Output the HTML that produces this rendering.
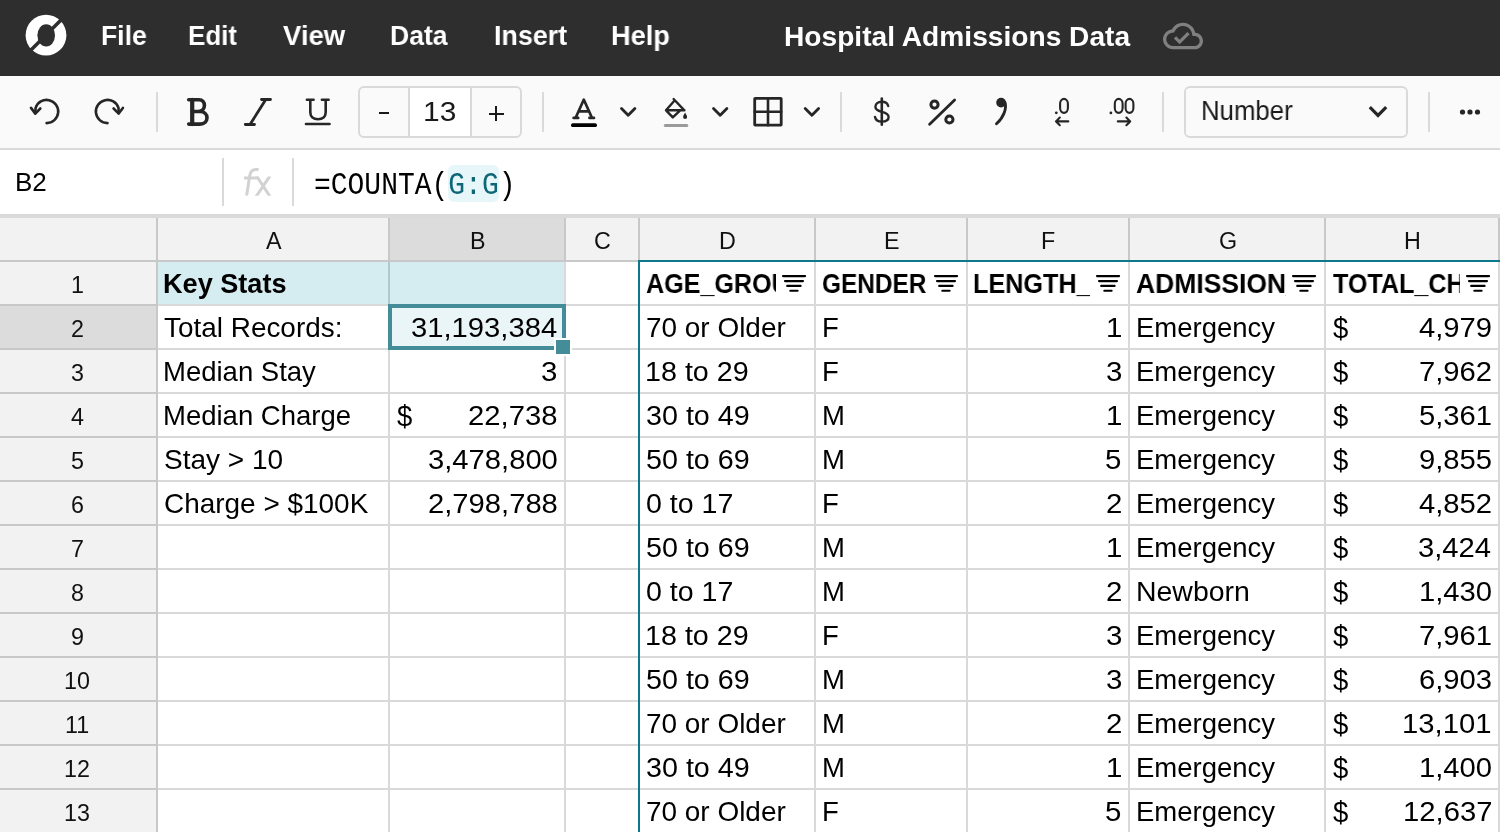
<!DOCTYPE html><html><head><meta charset="utf-8"><style>
html,body{margin:0;padding:0;width:1500px;height:832px;overflow:hidden;background:#fff}
.t{position:absolute;white-space:pre;will-change:transform}
.r{position:absolute}
svg{position:absolute;overflow:visible}
</style></head><body>
<div class="r" style="left:0;top:0;width:1500px;height:76px;background:#2e2e2e"></div>
<svg style="left:0;top:0" width="100" height="76" viewBox="0 0 100 76">
<circle cx="46" cy="35.2" r="20.4" fill="#fff"/>
<ellipse cx="46.2" cy="35.3" rx="8.8" ry="11.1" fill="#2e2e2e"/>
<line x1="28" y1="53" x2="64" y2="17" stroke="#2e2e2e" stroke-width="3.6"/>
</svg>
<div class="t" style="left:101.25px;top:22px;font-size:28px;line-height:28px;font-weight:700;font-family:'Liberation Sans',sans-serif;color:#fff;transform:scale(0.9471,1.0000);transform-origin:0 23px;">File</div>
<div class="t" style="left:188.29px;top:22px;font-size:28px;line-height:28px;font-weight:700;font-family:'Liberation Sans',sans-serif;color:#fff;transform:scale(0.9270,1.0000);transform-origin:0 23px;">Edit</div>
<div class="t" style="left:282.80px;top:22px;font-size:28px;line-height:28px;font-weight:700;font-family:'Liberation Sans',sans-serif;color:#fff;transform:scale(0.9818,1.0000);transform-origin:0 23px;">View</div>
<div class="t" style="left:390.24px;top:22px;font-size:28px;line-height:28px;font-weight:700;font-family:'Liberation Sans',sans-serif;color:#fff;transform:scale(0.9492,1.0000);transform-origin:0 23px;">Data</div>
<div class="t" style="left:494.23px;top:22px;font-size:28px;line-height:28px;font-weight:700;font-family:'Liberation Sans',sans-serif;color:#fff;transform:scale(0.9582,1.0000);transform-origin:0 23px;">Insert</div>
<div class="t" style="left:611.20px;top:22px;font-size:28px;line-height:28px;font-weight:700;font-family:'Liberation Sans',sans-serif;color:#fff;transform:scale(0.9714,1.0000);transform-origin:0 23px;">Help</div>
<div class="t" style="left:783.74px;top:23px;font-size:28px;line-height:28px;font-weight:700;font-family:'Liberation Sans',sans-serif;color:#fff;transform:scale(1.0050,1.0000);transform-origin:0 23px;">Hospital Admissions Data</div>
<svg style="left:1163px;top:16px" width="40" height="40" viewBox="0 0 24 24"><path fill="#808080" d="M19.35 10.04C18.67 6.59 15.64 4 12 4 9.11 4 6.6 5.64 5.35 8.04 2.34 8.36 0 10.91 0 14c0 3.31 2.69 6 6 6h13c2.76 0 5-2.24 5-5 0-2.64-2.05-4.78-4.65-4.96zM19 18H6c-2.21 0-4-1.79-4-4 0-2.05 1.53-3.76 3.56-3.97l1.07-.11.5-.95C8.08 7.14 9.94 6 12 6c2.62 0 4.88 1.86 5.39 4.43l.3 1.5 1.53.11c1.56.1 2.78 1.41 2.78 2.96 0 1.65-1.35 3-3 3zm-9-3.82l-2.09-2.09L6.5 13.5 10 17l6.01-6.01-1.41-1.41z"/></svg>
<div class="r" style="left:0;top:76px;width:1500px;height:72px;background:#fafafa"></div>
<div class="r" style="left:0;top:148px;width:1500px;height:2px;background:#dadada"></div>
<div class="r" style="left:156px;top:92px;width:2px;height:40px;background:#dadada"></div>
<div class="r" style="left:542px;top:92px;width:2px;height:40px;background:#dadada"></div>
<div class="r" style="left:840px;top:92px;width:2px;height:40px;background:#dadada"></div>
<div class="r" style="left:1162px;top:92px;width:2px;height:40px;background:#dadada"></div>
<div class="r" style="left:1428px;top:92px;width:2px;height:40px;background:#dadada"></div>
<svg style="left:0;top:76px" width="150" height="72" viewBox="0 76 150 72">
<g fill="none" stroke="#262626" stroke-width="2.6" stroke-linecap="round" stroke-linejoin="round">
<path d="M46.6 123.1 A11.6 11.6 0 1 0 35.6 107.9 L35.3 113"/>
<path d="M31 107.9 L35.3 113.6 L40.3 108.5"/>
<path d="M107.5 123.1 A11.6 11.6 0 1 1 118.5 107.9 L118.7 113"/>
<path d="M113.6 108.5 L118.7 113.6 L122.9 107.9"/>
</g></svg>
<svg style="left:0;top:76px" width="360" height="72" viewBox="0 76 360 72">
<g fill="none" stroke="#262626" stroke-width="3.6" stroke-linecap="round" stroke-linejoin="round">
<path d="M188.7 99.8 H199 C202.5 99.8 204.4 102.5 204.4 105.6 C204.4 108.8 202.2 111.5 198.5 111.5 H192.2 M188.7 124.1 H200 C204.5 124.1 207 121 207 117.8 C207 114.2 204 111.5 200 111.5 H192.2"/>
<path d="M192.2 99.8 V124.1" stroke-width="4.2"/>
</g>
<g fill="none" stroke="#262626" stroke-width="2.6" stroke-linecap="round">
<path d="M261.5 99.5 H270.5 M245.3 124.5 H254.5 M265.8 99.5 L250 124.5" stroke-width="2.8"/>
<path d="M306.9 99.8 H313.6 M321.9 99.8 H328.6 M310.3 99.8 V112.3 C310.3 116.8 313.5 119.3 318 119.3 C322.5 119.3 325.7 116.8 325.7 112.3 V99.8"/>
<path d="M306 124 H329.5"/>
</g></svg>
<div class="r" style="left:358px;top:86px;width:160px;height:48px;border:2px solid #dadada;border-radius:6px;background:#fafafa"></div>
<div class="r" style="left:408px;top:88px;width:2px;height:48px;background:#dadada"></div>
<div class="r" style="left:410px;top:88px;width:60px;height:48px;background:#fff"></div>
<div class="r" style="left:470px;top:88px;width:2px;height:48px;background:#dadada"></div>
<div class="r" style="left:379px;top:112px;width:10px;height:2.4px;background:#1a1a1a"></div>
<div class="t" style="left:423.32px;top:98px;font-size:27.5px;line-height:27.5px;font-weight:400;font-family:'Liberation Sans',sans-serif;color:#1a1a1a;transform:scale(1.0879,1.0000);transform-origin:0 23px;">13</div>
<div class="r" style="left:488.6px;top:112.6px;width:15.2px;height:2.4px;background:#1a1a1a"></div>
<div class="r" style="left:495px;top:106px;width:2.4px;height:15.3px;background:#1a1a1a"></div>
<svg style="left:0;top:76px" width="1500" height="72" viewBox="0 76 1500 72">
<g fill="none" stroke="#262626" stroke-width="2.6" stroke-linecap="round" stroke-linejoin="round">
<path d="M575.6 117.9 L583.8 99.6 L592 117.9 M578.4 111.4 H589.2 M573.6 117.9 H578.2 M589.4 117.9 H594"/>
<path d="M621.5 108.5 L628.2 115.3 L634.9 108.5" stroke-width="2.8"/>
<path d="M713.5 108.5 L720.2 115.3 L726.9 108.5" stroke-width="2.8"/>
<path d="M805.2 108.5 L811.9 115.3 L818.6 108.5" stroke-width="2.8"/>
<rect x="754.7" y="98.4" width="26.5" height="26.8" rx="0.4" stroke-width="2.8" stroke-linejoin="miter"/>
<path d="M768 98.4 V125.2 M754.7 111.8 H781.2" stroke-width="2.6"/>
<path d="M673.6 99 L684.4 110.3 M674.8 100.3 L666 110.3 L672.8 117.4 L680.2 110.3 M666 110.3 H684.4" stroke-width="2.4"/>
</g>
<path d="M685.1 112.6 C684 114.8 683.1 115.8 683.1 117 A2 2 0 0 0 687.1 117 C687.1 115.8 686.2 114.8 685.1 112.6Z" fill="#262626"/>
<rect x="571" y="123.3" width="26" height="3.8" rx="1.9" fill="#000"/>
<rect x="663.8" y="123.9" width="24.5" height="3.2" rx="1.6" fill="#9a9a9a"/>
<g fill="none" stroke="#262626" stroke-width="2.6" stroke-linecap="round">
<path d="M929.6 124.2 L954.6 100" stroke-width="2.8"/>
<circle cx="934.5" cy="104.6" r="3.6" stroke-width="3"/>
<circle cx="949.4" cy="119.5" r="3.6" stroke-width="3"/>
<path d="M1005 102.5 C1006.8 108 1004 117 996.5 123.8" stroke-width="2.9"/>
<path d="M881.8 98.6 V124.8"/>
<path d="M888.2 106 C887.6 103.5 885 101.8 881.8 101.8 C878 101.8 875.4 104 875.4 106.8 C875.4 110 878.3 111 881.8 111.8 C885.6 112.6 888.6 114 888.6 117 C888.6 120 885.6 121.6 881.8 121.6 C878.2 121.6 875.6 119.8 875 117" stroke-width="2.4"/>
</g>
<circle cx="1001.1" cy="102.6" r="4.9" fill="#262626"/>
<g fill="none" stroke="#262626" stroke-width="2.1" stroke-linecap="round" stroke-linejoin="round">
<path d="M1068.3 121.4 H1056 M1059.8 117.6 L1056 121.4 L1059.8 125.2"/>
<path d="M1117.8 121.4 H1130.2 M1126.4 117.6 L1130.2 121.4 L1126.4 125.2"/>
<rect x="1060.1" y="98.9" width="7.8" height="14" rx="3.9" ry="4.8"/>
<rect x="1114.8" y="98.9" width="7.8" height="14" rx="3.9" ry="4.8"/>
<rect x="1125.6" y="98.9" width="7.8" height="14" rx="3.9" ry="4.8"/>
</g>
<circle cx="1056.3" cy="112.8" r="1.4" fill="#262626"/>
<circle cx="1110.9" cy="112.9" r="1.4" fill="#262626"/>
<circle cx="1462.5" cy="112" r="2.6" fill="#262626"/>
<circle cx="1470" cy="112" r="2.6" fill="#262626"/>
<circle cx="1477.5" cy="112" r="2.6" fill="#262626"/>
</svg>
<div class="r" style="left:1184px;top:86px;width:220px;height:48px;border:2px solid #dadada;border-radius:6px;background:#fafafa"></div>
<div class="t" style="left:1201.09px;top:97.3px;font-size:27.5px;line-height:27.5px;font-weight:400;font-family:'Liberation Sans',sans-serif;color:#1a1a1a;transform:scale(0.9369,1.0000);transform-origin:0 23px;">Number</div>
<svg style="left:1350px;top:96px" width="50" height="32" viewBox="1350 96 50 32"><path d="M1369.8 107.2 L1378 115.4 L1386.2 107.2" fill="none" stroke="#262626" stroke-width="3.2" stroke-linecap="butt" stroke-linejoin="miter"/></svg>
<div class="r" style="left:0;top:150px;width:1500px;height:64px;background:#fff"></div>
<div class="r" style="left:0;top:214px;width:1500px;height:4px;background:#dadada"></div>
<div class="r" style="left:222px;top:158px;width:2px;height:48px;background:#dadada"></div>
<div class="r" style="left:292px;top:158px;width:2px;height:48px;background:#dadada"></div>
<div class="t" style="left:15.45px;top:169px;font-size:26px;line-height:26px;font-weight:400;font-family:'Liberation Sans',sans-serif;color:#000;transform:scale(0.9982,1.0000);transform-origin:0 22px;">B2</div>
<svg style="left:0;top:150px" width="300" height="64" viewBox="0 150 300 64"><g fill="none" stroke="#d2d2d2" stroke-width="3" stroke-linecap="butt"><path d="M246.6 195.5 L249.8 175.5 C250.6 171 253 169.6 256 169.6 H258.6"/><path d="M244 178 H259"/><path clip-path="url(#fxc)" d="M256.4 175.8 L270.5 197.3 M270 175.8 L255.6 197.3"/></g><clipPath id="fxc"><rect x="240" y="176.6" width="40" height="19.1"/></clipPath></svg>
<div class="r" style="left:448px;top:165px;width:51px;height:36.5px;border-radius:6px;background:#e6f6f9"></div>
<div class="t" style="left:314.00px;top:172.6px;font-size:27.1px;line-height:27.1px;font-family:'Liberation Mono',monospace;color:#000;transform:scale(1.0325,1.137);transform-origin:0 21px">=COUNTA(<span style="color:#0e6677">G:G</span>)</div>
<div class="r" style="left:0;top:218px;width:1500px;height:42px;background:#f2f2f2"></div>
<div class="r" style="left:390px;top:218px;width:174px;height:42px;background:#dcdcdc"></div>
<div class="r" style="left:0;top:260px;width:1500px;height:2px;background:#c8c8c8"></div>
<div class="r" style="left:0;top:262px;width:156px;height:570px;background:#f2f2f2"></div>
<div class="r" style="left:0;top:306px;width:156px;height:42px;background:#dcdcdc"></div>
<div class="r" style="left:156px;top:218px;width:2px;height:614px;background:#c8c8c8"></div>
<div class="r" style="left:388px;top:218px;width:2px;height:42px;background:#c8c8c8"></div>
<div class="r" style="left:564px;top:218px;width:2px;height:42px;background:#c8c8c8"></div>
<div class="r" style="left:638px;top:218px;width:2px;height:42px;background:#c8c8c8"></div>
<div class="r" style="left:814px;top:218px;width:2px;height:42px;background:#c8c8c8"></div>
<div class="r" style="left:966px;top:218px;width:2px;height:42px;background:#c8c8c8"></div>
<div class="r" style="left:1128px;top:218px;width:2px;height:42px;background:#c8c8c8"></div>
<div class="r" style="left:1324px;top:218px;width:2px;height:42px;background:#c8c8c8"></div>
<div class="r" style="left:1498px;top:218px;width:2px;height:42px;background:#c8c8c8"></div>
<div class="r" style="left:158px;top:262px;width:406px;height:42px;background:#d5ecf0"></div>
<div class="r" style="left:0;top:304px;width:156px;height:2px;background:#c8c8c8"></div>
<div class="r" style="left:158px;top:304px;width:1342px;height:2px;background:#dad9d9"></div>
<div class="r" style="left:0;top:348px;width:156px;height:2px;background:#c8c8c8"></div>
<div class="r" style="left:158px;top:348px;width:1342px;height:2px;background:#dad9d9"></div>
<div class="r" style="left:0;top:392px;width:156px;height:2px;background:#c8c8c8"></div>
<div class="r" style="left:158px;top:392px;width:1342px;height:2px;background:#dad9d9"></div>
<div class="r" style="left:0;top:436px;width:156px;height:2px;background:#c8c8c8"></div>
<div class="r" style="left:158px;top:436px;width:1342px;height:2px;background:#dad9d9"></div>
<div class="r" style="left:0;top:480px;width:156px;height:2px;background:#c8c8c8"></div>
<div class="r" style="left:158px;top:480px;width:1342px;height:2px;background:#dad9d9"></div>
<div class="r" style="left:0;top:524px;width:156px;height:2px;background:#c8c8c8"></div>
<div class="r" style="left:158px;top:524px;width:1342px;height:2px;background:#dad9d9"></div>
<div class="r" style="left:0;top:568px;width:156px;height:2px;background:#c8c8c8"></div>
<div class="r" style="left:158px;top:568px;width:1342px;height:2px;background:#dad9d9"></div>
<div class="r" style="left:0;top:612px;width:156px;height:2px;background:#c8c8c8"></div>
<div class="r" style="left:158px;top:612px;width:1342px;height:2px;background:#dad9d9"></div>
<div class="r" style="left:0;top:656px;width:156px;height:2px;background:#c8c8c8"></div>
<div class="r" style="left:158px;top:656px;width:1342px;height:2px;background:#dad9d9"></div>
<div class="r" style="left:0;top:700px;width:156px;height:2px;background:#c8c8c8"></div>
<div class="r" style="left:158px;top:700px;width:1342px;height:2px;background:#dad9d9"></div>
<div class="r" style="left:0;top:744px;width:156px;height:2px;background:#c8c8c8"></div>
<div class="r" style="left:158px;top:744px;width:1342px;height:2px;background:#dad9d9"></div>
<div class="r" style="left:0;top:788px;width:156px;height:2px;background:#c8c8c8"></div>
<div class="r" style="left:158px;top:788px;width:1342px;height:2px;background:#dad9d9"></div>
<div class="r" style="left:0;top:832px;width:156px;height:2px;background:#c8c8c8"></div>
<div class="r" style="left:158px;top:832px;width:1342px;height:2px;background:#dad9d9"></div>
<div class="r" style="left:388px;top:262px;width:2px;height:570px;background:#dad9d9"></div>
<div class="r" style="left:564px;top:262px;width:2px;height:570px;background:#dad9d9"></div>
<div class="r" style="left:638px;top:262px;width:2px;height:570px;background:#dad9d9"></div>
<div class="r" style="left:814px;top:262px;width:2px;height:570px;background:#dad9d9"></div>
<div class="r" style="left:966px;top:262px;width:2px;height:570px;background:#dad9d9"></div>
<div class="r" style="left:1128px;top:262px;width:2px;height:570px;background:#dad9d9"></div>
<div class="r" style="left:1324px;top:262px;width:2px;height:570px;background:#dad9d9"></div>
<div class="r" style="left:1498px;top:262px;width:2px;height:570px;background:#dad9d9"></div>
<div class="r" style="left:388px;top:262px;width:2px;height:42px;background:#b4c8cc"></div>
<div class="t" style="left:266.02px;top:230px;font-size:23.3px;line-height:23.3px;font-weight:400;font-family:'Liberation Sans',sans-serif;color:#111;">A</div>
<div class="t" style="left:469.70px;top:230px;font-size:23.3px;line-height:23.3px;font-weight:400;font-family:'Liberation Sans',sans-serif;color:#111;">B</div>
<div class="t" style="left:594.25px;top:230px;font-size:23.3px;line-height:23.3px;font-weight:400;font-family:'Liberation Sans',sans-serif;color:#111;">C</div>
<div class="t" style="left:719.00px;top:230px;font-size:23.3px;line-height:23.3px;font-weight:400;font-family:'Liberation Sans',sans-serif;color:#111;">D</div>
<div class="t" style="left:883.57px;top:230px;font-size:23.3px;line-height:23.3px;font-weight:400;font-family:'Liberation Sans',sans-serif;color:#111;">E</div>
<div class="t" style="left:1041.20px;top:230px;font-size:23.3px;line-height:23.3px;font-weight:400;font-family:'Liberation Sans',sans-serif;color:#111;">F</div>
<div class="t" style="left:1219.02px;top:230px;font-size:23.3px;line-height:23.3px;font-weight:400;font-family:'Liberation Sans',sans-serif;color:#111;">G</div>
<div class="t" style="left:1404.37px;top:230px;font-size:23.3px;line-height:23.3px;font-weight:400;font-family:'Liberation Sans',sans-serif;color:#111;">H</div>
<div class="t" style="left:70.70px;top:274px;font-size:23.3px;line-height:23.3px;font-weight:400;font-family:'Liberation Sans',sans-serif;color:#111;">1</div>
<div class="t" style="left:71.02px;top:318px;font-size:23.3px;line-height:23.3px;font-weight:400;font-family:'Liberation Sans',sans-serif;color:#111;">2</div>
<div class="t" style="left:71.07px;top:362px;font-size:23.3px;line-height:23.3px;font-weight:400;font-family:'Liberation Sans',sans-serif;color:#111;">3</div>
<div class="t" style="left:71.08px;top:406px;font-size:23.3px;line-height:23.3px;font-weight:400;font-family:'Liberation Sans',sans-serif;color:#111;">4</div>
<div class="t" style="left:71.02px;top:450px;font-size:23.3px;line-height:23.3px;font-weight:400;font-family:'Liberation Sans',sans-serif;color:#111;">5</div>
<div class="t" style="left:70.92px;top:494px;font-size:23.3px;line-height:23.3px;font-weight:400;font-family:'Liberation Sans',sans-serif;color:#111;">6</div>
<div class="t" style="left:71.00px;top:538px;font-size:23.3px;line-height:23.3px;font-weight:400;font-family:'Liberation Sans',sans-serif;color:#111;">7</div>
<div class="t" style="left:71.03px;top:582px;font-size:23.3px;line-height:23.3px;font-weight:400;font-family:'Liberation Sans',sans-serif;color:#111;">8</div>
<div class="t" style="left:71.03px;top:626px;font-size:23.3px;line-height:23.3px;font-weight:400;font-family:'Liberation Sans',sans-serif;color:#111;">9</div>
<div class="t" style="left:64.12px;top:670px;font-size:23.3px;line-height:23.3px;font-weight:400;font-family:'Liberation Sans',sans-serif;color:#111;">10</div>
<div class="t" style="left:65.08px;top:714px;font-size:23.3px;line-height:23.3px;font-weight:400;font-family:'Liberation Sans',sans-serif;color:#111;">11</div>
<div class="t" style="left:64.25px;top:758px;font-size:23.3px;line-height:23.3px;font-weight:400;font-family:'Liberation Sans',sans-serif;color:#111;">12</div>
<div class="t" style="left:64.17px;top:802px;font-size:23.3px;line-height:23.3px;font-weight:400;font-family:'Liberation Sans',sans-serif;color:#111;">13</div>
<div class="r" style="left:392px;top:308px;width:170px;height:38px;background:#eaf5f8"></div>
<div class="r" style="left:388px;top:304px;width:170px;height:38px;border:4px solid #458c99"></div>
<div class="r" style="left:554px;top:338px;width:18px;height:18px;background:#fff"></div>
<div class="r" style="left:556px;top:340px;width:14px;height:14px;background:#458c99"></div>
<div class="r" style="left:638px;top:260px;width:2px;height:572px;background:#0d778b"></div>
<div class="r" style="left:638px;top:260px;width:862px;height:2px;background:#0d778b"></div>
<div class="t" style="left:163.19px;top:271px;font-size:27px;line-height:27px;font-weight:700;font-family:'Liberation Sans',sans-serif;color:#000;transform:scale(1.0037,1.0000);transform-origin:0 22px;">Key Stats</div>
<div class="t" style="left:164.39px;top:314px;font-size:27.5px;line-height:27.5px;font-weight:400;font-family:'Liberation Sans',sans-serif;color:#000;transform:scale(1.0151,1.0000);transform-origin:0 23px;">Total Records:</div>
<div class="t" style="left:162.75px;top:358px;font-size:27.5px;line-height:27.5px;font-weight:400;font-family:'Liberation Sans',sans-serif;color:#000;">Median Stay</div>
<div class="t" style="left:162.75px;top:402px;font-size:27.5px;line-height:27.5px;font-weight:400;font-family:'Liberation Sans',sans-serif;color:#000;">Median Charge</div>
<div class="t" style="left:163.73px;top:446px;font-size:27.5px;line-height:27.5px;font-weight:400;font-family:'Liberation Sans',sans-serif;color:#000;transform:scale(1.0183,1.0000);transform-origin:0 23px;">Stay &gt; 10</div>
<div class="t" style="left:163.58px;top:490px;font-size:27.5px;line-height:27.5px;font-weight:400;font-family:'Liberation Sans',sans-serif;color:#000;transform:scale(1.0160,1.0000);transform-origin:0 23px;">Charge &gt; $100K</div>
<div class="t" style="left:411.13px;top:314px;font-size:27.5px;line-height:27.5px;font-weight:400;font-family:'Liberation Sans',sans-serif;color:#000;transform:scale(1.0622,1.0000);transform-origin:0 23px;">31,193,384</div>
<div class="t" style="left:541.41px;top:358px;font-size:27.5px;line-height:27.5px;font-weight:400;font-family:'Liberation Sans',sans-serif;color:#000;transform:scale(1.0700,1.0000);transform-origin:0 23px;">3</div>
<div class="t" style="left:468.32px;top:402px;font-size:27.5px;line-height:27.5px;font-weight:400;font-family:'Liberation Sans',sans-serif;color:#000;transform:scale(1.0636,1.0000);transform-origin:0 23px;">22,738</div>
<div class="t" style="left:427.77px;top:446px;font-size:27.5px;line-height:27.5px;font-weight:400;font-family:'Liberation Sans',sans-serif;color:#000;transform:scale(1.0613,1.0000);transform-origin:0 23px;">3,478,800</div>
<div class="t" style="left:427.93px;top:490px;font-size:27.5px;line-height:27.5px;font-weight:400;font-family:'Liberation Sans',sans-serif;color:#000;transform:scale(1.0613,1.0000);transform-origin:0 23px;">2,798,788</div>
<div class="t" style="left:397.30px;top:402.6px;font-size:27.5px;line-height:27.5px;font-weight:400;font-family:'Liberation Sans',sans-serif;color:#000;transform:scale(1.0000,1.1000);transform-origin:0 23px;">$</div>
<div class="r" style="left:640px;top:262px;width:136px;height:42px;overflow:hidden">
<div class="t" style="left:6.35px;top:9px;font-size:27px;line-height:27px;font-weight:700;font-family:'Liberation Sans',sans-serif;color:#000;transform:scale(0.9300,1.0000);transform-origin:0 22px;">AGE_GROUP</div>
</div>
<svg style="left:782px;top:270px" width="24" height="26" viewBox="0 0 24 26"><g stroke="#000" stroke-width="2.1" stroke-linecap="round">
<path d="M1 6.1 H23.1 M3 11.1 H21 M5.2 15.9 H18.6 M8.3 20.8 H15.6"/></g></svg>
<div class="r" style="left:816px;top:262px;width:112px;height:42px;overflow:hidden">
<div class="t" style="left:6.01px;top:9px;font-size:27px;line-height:27px;font-weight:700;font-family:'Liberation Sans',sans-serif;color:#000;transform:scale(0.9040,1.0000);transform-origin:0 22px;">GENDER</div>
</div>
<svg style="left:934px;top:270px" width="24" height="26" viewBox="0 0 24 26"><g stroke="#000" stroke-width="2.1" stroke-linecap="round">
<path d="M1 6.1 H23.1 M3 11.1 H21 M5.2 15.9 H18.6 M8.3 20.8 H15.6"/></g></svg>
<div class="r" style="left:968px;top:262px;width:122px;height:42px;overflow:hidden">
<div class="t" style="left:5.32px;top:9px;font-size:27px;line-height:27px;font-weight:700;font-family:'Liberation Sans',sans-serif;color:#000;transform:scale(0.9330,1.0000);transform-origin:0 22px;">LENGTH_OF_STAY</div>
</div>
<svg style="left:1096px;top:270px" width="24" height="26" viewBox="0 0 24 26"><g stroke="#000" stroke-width="2.1" stroke-linecap="round">
<path d="M1 6.1 H23.1 M3 11.1 H21 M5.2 15.9 H18.6 M8.3 20.8 H15.6"/></g></svg>
<div class="r" style="left:1130px;top:262px;width:156px;height:42px;overflow:hidden">
<div class="t" style="left:6.31px;top:9px;font-size:27px;line-height:27px;font-weight:700;font-family:'Liberation Sans',sans-serif;color:#000;transform:scale(0.9810,1.0000);transform-origin:0 22px;">ADMISSION_TYPE</div>
</div>
<svg style="left:1292px;top:270px" width="24" height="26" viewBox="0 0 24 26"><g stroke="#000" stroke-width="2.1" stroke-linecap="round">
<path d="M1 6.1 H23.1 M3 11.1 H21 M5.2 15.9 H18.6 M8.3 20.8 H15.6"/></g></svg>
<div class="r" style="left:1326px;top:262px;width:134px;height:42px;overflow:hidden">
<div class="t" style="left:6.72px;top:9px;font-size:27px;line-height:27px;font-weight:700;font-family:'Liberation Sans',sans-serif;color:#000;transform:scale(0.9300,1.0000);transform-origin:0 22px;">TOTAL_CHARGES</div>
</div>
<svg style="left:1466px;top:270px" width="24" height="26" viewBox="0 0 24 26"><g stroke="#000" stroke-width="2.1" stroke-linecap="round">
<path d="M1 6.1 H23.1 M3 11.1 H21 M5.2 15.9 H18.6 M8.3 20.8 H15.6"/></g></svg>
<div class="t" style="left:645.58px;top:314px;font-size:27.5px;line-height:27.5px;font-weight:400;font-family:'Liberation Sans',sans-serif;color:#000;transform:scale(1.0156,1.0000);transform-origin:0 23px;">70 or Older</div>
<div class="t" style="left:822.15px;top:314px;font-size:27.5px;line-height:27.5px;font-weight:400;font-family:'Liberation Sans',sans-serif;color:#000;">F</div>
<div class="t" style="left:1105.67px;top:314px;font-size:27.5px;line-height:27.5px;font-weight:400;font-family:'Liberation Sans',sans-serif;color:#000;transform:scale(1.0700,1.0000);transform-origin:0 23px;">1</div>
<div class="t" style="left:1136.05px;top:314px;font-size:27.5px;line-height:27.5px;font-weight:400;font-family:'Liberation Sans',sans-serif;color:#000;transform:scale(0.9985,1.0000);transform-origin:0 23px;">Emergency</div>
<div class="t" style="left:1332.80px;top:314.6px;font-size:27.5px;line-height:27.5px;font-weight:400;font-family:'Liberation Sans',sans-serif;color:#000;transform:scale(1.0000,1.1000);transform-origin:0 23px;">$</div>
<div class="t" style="left:1418.80px;top:314px;font-size:27.5px;line-height:27.5px;font-weight:400;font-family:'Liberation Sans',sans-serif;color:#000;transform:scale(1.0622,1.0000);transform-origin:0 23px;">4,979</div>
<div class="t" style="left:644.81px;top:358px;font-size:27.5px;line-height:27.5px;font-weight:400;font-family:'Liberation Sans',sans-serif;color:#000;transform:scale(1.0431,1.0000);transform-origin:0 23px;">18 to 29</div>
<div class="t" style="left:822.15px;top:358px;font-size:27.5px;line-height:27.5px;font-weight:400;font-family:'Liberation Sans',sans-serif;color:#000;">F</div>
<div class="t" style="left:1105.51px;top:358px;font-size:27.5px;line-height:27.5px;font-weight:400;font-family:'Liberation Sans',sans-serif;color:#000;transform:scale(1.0700,1.0000);transform-origin:0 23px;">3</div>
<div class="t" style="left:1136.05px;top:358px;font-size:27.5px;line-height:27.5px;font-weight:400;font-family:'Liberation Sans',sans-serif;color:#000;transform:scale(0.9985,1.0000);transform-origin:0 23px;">Emergency</div>
<div class="t" style="left:1332.80px;top:358.6px;font-size:27.5px;line-height:27.5px;font-weight:400;font-family:'Liberation Sans',sans-serif;color:#000;transform:scale(1.0000,1.1000);transform-origin:0 23px;">$</div>
<div class="t" style="left:1418.91px;top:358px;font-size:27.5px;line-height:27.5px;font-weight:400;font-family:'Liberation Sans',sans-serif;color:#000;transform:scale(1.0622,1.0000);transform-origin:0 23px;">7,962</div>
<div class="t" style="left:645.90px;top:402px;font-size:27.5px;line-height:27.5px;font-weight:400;font-family:'Liberation Sans',sans-serif;color:#000;transform:scale(1.0431,1.0000);transform-origin:0 23px;">30 to 49</div>
<div class="t" style="left:822.15px;top:402px;font-size:27.5px;line-height:27.5px;font-weight:400;font-family:'Liberation Sans',sans-serif;color:#000;">M</div>
<div class="t" style="left:1105.67px;top:402px;font-size:27.5px;line-height:27.5px;font-weight:400;font-family:'Liberation Sans',sans-serif;color:#000;transform:scale(1.0700,1.0000);transform-origin:0 23px;">1</div>
<div class="t" style="left:1136.05px;top:402px;font-size:27.5px;line-height:27.5px;font-weight:400;font-family:'Liberation Sans',sans-serif;color:#000;transform:scale(0.9985,1.0000);transform-origin:0 23px;">Emergency</div>
<div class="t" style="left:1332.80px;top:402.6px;font-size:27.5px;line-height:27.5px;font-weight:400;font-family:'Liberation Sans',sans-serif;color:#000;transform:scale(1.0000,1.1000);transform-origin:0 23px;">$</div>
<div class="t" style="left:1418.85px;top:402px;font-size:27.5px;line-height:27.5px;font-weight:400;font-family:'Liberation Sans',sans-serif;color:#000;transform:scale(1.0622,1.0000);transform-origin:0 23px;">5,361</div>
<div class="t" style="left:645.85px;top:446px;font-size:27.5px;line-height:27.5px;font-weight:400;font-family:'Liberation Sans',sans-serif;color:#000;transform:scale(1.0431,1.0000);transform-origin:0 23px;">50 to 69</div>
<div class="t" style="left:822.15px;top:446px;font-size:27.5px;line-height:27.5px;font-weight:400;font-family:'Liberation Sans',sans-serif;color:#000;">M</div>
<div class="t" style="left:1105.46px;top:446px;font-size:27.5px;line-height:27.5px;font-weight:400;font-family:'Liberation Sans',sans-serif;color:#000;transform:scale(1.0700,1.0000);transform-origin:0 23px;">5</div>
<div class="t" style="left:1136.05px;top:446px;font-size:27.5px;line-height:27.5px;font-weight:400;font-family:'Liberation Sans',sans-serif;color:#000;transform:scale(0.9985,1.0000);transform-origin:0 23px;">Emergency</div>
<div class="t" style="left:1332.80px;top:446.6px;font-size:27.5px;line-height:27.5px;font-weight:400;font-family:'Liberation Sans',sans-serif;color:#000;transform:scale(1.0000,1.1000);transform-origin:0 23px;">$</div>
<div class="t" style="left:1418.64px;top:446px;font-size:27.5px;line-height:27.5px;font-weight:400;font-family:'Liberation Sans',sans-serif;color:#000;transform:scale(1.0622,1.0000);transform-origin:0 23px;">9,855</div>
<div class="t" style="left:645.91px;top:490px;font-size:27.5px;line-height:27.5px;font-weight:400;font-family:'Liberation Sans',sans-serif;color:#000;transform:scale(1.0382,1.0000);transform-origin:0 23px;">0 to 17</div>
<div class="t" style="left:822.15px;top:490px;font-size:27.5px;line-height:27.5px;font-weight:400;font-family:'Liberation Sans',sans-serif;color:#000;">F</div>
<div class="t" style="left:1105.73px;top:490px;font-size:27.5px;line-height:27.5px;font-weight:400;font-family:'Liberation Sans',sans-serif;color:#000;transform:scale(1.0700,1.0000);transform-origin:0 23px;">2</div>
<div class="t" style="left:1136.05px;top:490px;font-size:27.5px;line-height:27.5px;font-weight:400;font-family:'Liberation Sans',sans-serif;color:#000;transform:scale(0.9985,1.0000);transform-origin:0 23px;">Emergency</div>
<div class="t" style="left:1332.80px;top:490.6px;font-size:27.5px;line-height:27.5px;font-weight:400;font-family:'Liberation Sans',sans-serif;color:#000;transform:scale(1.0000,1.1000);transform-origin:0 23px;">$</div>
<div class="t" style="left:1418.91px;top:490px;font-size:27.5px;line-height:27.5px;font-weight:400;font-family:'Liberation Sans',sans-serif;color:#000;transform:scale(1.0622,1.0000);transform-origin:0 23px;">4,852</div>
<div class="t" style="left:645.85px;top:534px;font-size:27.5px;line-height:27.5px;font-weight:400;font-family:'Liberation Sans',sans-serif;color:#000;transform:scale(1.0431,1.0000);transform-origin:0 23px;">50 to 69</div>
<div class="t" style="left:822.15px;top:534px;font-size:27.5px;line-height:27.5px;font-weight:400;font-family:'Liberation Sans',sans-serif;color:#000;">M</div>
<div class="t" style="left:1105.67px;top:534px;font-size:27.5px;line-height:27.5px;font-weight:400;font-family:'Liberation Sans',sans-serif;color:#000;transform:scale(1.0700,1.0000);transform-origin:0 23px;">1</div>
<div class="t" style="left:1136.05px;top:534px;font-size:27.5px;line-height:27.5px;font-weight:400;font-family:'Liberation Sans',sans-serif;color:#000;transform:scale(0.9985,1.0000);transform-origin:0 23px;">Emergency</div>
<div class="t" style="left:1332.80px;top:534.6px;font-size:27.5px;line-height:27.5px;font-weight:400;font-family:'Liberation Sans',sans-serif;color:#000;transform:scale(1.0000,1.1000);transform-origin:0 23px;">$</div>
<div class="t" style="left:1418.27px;top:534px;font-size:27.5px;line-height:27.5px;font-weight:400;font-family:'Liberation Sans',sans-serif;color:#000;transform:scale(1.0622,1.0000);transform-origin:0 23px;">3,424</div>
<div class="t" style="left:645.91px;top:578px;font-size:27.5px;line-height:27.5px;font-weight:400;font-family:'Liberation Sans',sans-serif;color:#000;transform:scale(1.0382,1.0000);transform-origin:0 23px;">0 to 17</div>
<div class="t" style="left:822.15px;top:578px;font-size:27.5px;line-height:27.5px;font-weight:400;font-family:'Liberation Sans',sans-serif;color:#000;">M</div>
<div class="t" style="left:1105.73px;top:578px;font-size:27.5px;line-height:27.5px;font-weight:400;font-family:'Liberation Sans',sans-serif;color:#000;transform:scale(1.0700,1.0000);transform-origin:0 23px;">2</div>
<div class="t" style="left:1135.97px;top:578px;font-size:27.5px;line-height:27.5px;font-weight:400;font-family:'Liberation Sans',sans-serif;color:#000;transform:scale(1.0340,1.0000);transform-origin:0 23px;">Newborn</div>
<div class="t" style="left:1332.80px;top:578.6px;font-size:27.5px;line-height:27.5px;font-weight:400;font-family:'Liberation Sans',sans-serif;color:#000;transform:scale(1.0000,1.1000);transform-origin:0 23px;">$</div>
<div class="t" style="left:1418.53px;top:578px;font-size:27.5px;line-height:27.5px;font-weight:400;font-family:'Liberation Sans',sans-serif;color:#000;transform:scale(1.0622,1.0000);transform-origin:0 23px;">1,430</div>
<div class="t" style="left:644.81px;top:622px;font-size:27.5px;line-height:27.5px;font-weight:400;font-family:'Liberation Sans',sans-serif;color:#000;transform:scale(1.0431,1.0000);transform-origin:0 23px;">18 to 29</div>
<div class="t" style="left:822.15px;top:622px;font-size:27.5px;line-height:27.5px;font-weight:400;font-family:'Liberation Sans',sans-serif;color:#000;">F</div>
<div class="t" style="left:1105.51px;top:622px;font-size:27.5px;line-height:27.5px;font-weight:400;font-family:'Liberation Sans',sans-serif;color:#000;transform:scale(1.0700,1.0000);transform-origin:0 23px;">3</div>
<div class="t" style="left:1136.05px;top:622px;font-size:27.5px;line-height:27.5px;font-weight:400;font-family:'Liberation Sans',sans-serif;color:#000;transform:scale(0.9985,1.0000);transform-origin:0 23px;">Emergency</div>
<div class="t" style="left:1332.80px;top:622.6px;font-size:27.5px;line-height:27.5px;font-weight:400;font-family:'Liberation Sans',sans-serif;color:#000;transform:scale(1.0000,1.1000);transform-origin:0 23px;">$</div>
<div class="t" style="left:1418.85px;top:622px;font-size:27.5px;line-height:27.5px;font-weight:400;font-family:'Liberation Sans',sans-serif;color:#000;transform:scale(1.0622,1.0000);transform-origin:0 23px;">7,961</div>
<div class="t" style="left:645.85px;top:666px;font-size:27.5px;line-height:27.5px;font-weight:400;font-family:'Liberation Sans',sans-serif;color:#000;transform:scale(1.0431,1.0000);transform-origin:0 23px;">50 to 69</div>
<div class="t" style="left:822.15px;top:666px;font-size:27.5px;line-height:27.5px;font-weight:400;font-family:'Liberation Sans',sans-serif;color:#000;">M</div>
<div class="t" style="left:1105.51px;top:666px;font-size:27.5px;line-height:27.5px;font-weight:400;font-family:'Liberation Sans',sans-serif;color:#000;transform:scale(1.0700,1.0000);transform-origin:0 23px;">3</div>
<div class="t" style="left:1136.05px;top:666px;font-size:27.5px;line-height:27.5px;font-weight:400;font-family:'Liberation Sans',sans-serif;color:#000;transform:scale(0.9985,1.0000);transform-origin:0 23px;">Emergency</div>
<div class="t" style="left:1332.80px;top:666.6px;font-size:27.5px;line-height:27.5px;font-weight:400;font-family:'Liberation Sans',sans-serif;color:#000;transform:scale(1.0000,1.1000);transform-origin:0 23px;">$</div>
<div class="t" style="left:1418.69px;top:666px;font-size:27.5px;line-height:27.5px;font-weight:400;font-family:'Liberation Sans',sans-serif;color:#000;transform:scale(1.0622,1.0000);transform-origin:0 23px;">6,903</div>
<div class="t" style="left:645.58px;top:710px;font-size:27.5px;line-height:27.5px;font-weight:400;font-family:'Liberation Sans',sans-serif;color:#000;transform:scale(1.0156,1.0000);transform-origin:0 23px;">70 or Older</div>
<div class="t" style="left:822.15px;top:710px;font-size:27.5px;line-height:27.5px;font-weight:400;font-family:'Liberation Sans',sans-serif;color:#000;">M</div>
<div class="t" style="left:1105.73px;top:710px;font-size:27.5px;line-height:27.5px;font-weight:400;font-family:'Liberation Sans',sans-serif;color:#000;transform:scale(1.0700,1.0000);transform-origin:0 23px;">2</div>
<div class="t" style="left:1136.05px;top:710px;font-size:27.5px;line-height:27.5px;font-weight:400;font-family:'Liberation Sans',sans-serif;color:#000;transform:scale(0.9985,1.0000);transform-origin:0 23px;">Emergency</div>
<div class="t" style="left:1332.80px;top:710.6px;font-size:27.5px;line-height:27.5px;font-weight:400;font-family:'Liberation Sans',sans-serif;color:#000;transform:scale(1.0000,1.1000);transform-origin:0 23px;">$</div>
<div class="t" style="left:1402.48px;top:710px;font-size:27.5px;line-height:27.5px;font-weight:400;font-family:'Liberation Sans',sans-serif;color:#000;transform:scale(1.0636,1.0000);transform-origin:0 23px;">13,101</div>
<div class="t" style="left:645.90px;top:754px;font-size:27.5px;line-height:27.5px;font-weight:400;font-family:'Liberation Sans',sans-serif;color:#000;transform:scale(1.0431,1.0000);transform-origin:0 23px;">30 to 49</div>
<div class="t" style="left:822.15px;top:754px;font-size:27.5px;line-height:27.5px;font-weight:400;font-family:'Liberation Sans',sans-serif;color:#000;">M</div>
<div class="t" style="left:1105.67px;top:754px;font-size:27.5px;line-height:27.5px;font-weight:400;font-family:'Liberation Sans',sans-serif;color:#000;transform:scale(1.0700,1.0000);transform-origin:0 23px;">1</div>
<div class="t" style="left:1136.05px;top:754px;font-size:27.5px;line-height:27.5px;font-weight:400;font-family:'Liberation Sans',sans-serif;color:#000;transform:scale(0.9985,1.0000);transform-origin:0 23px;">Emergency</div>
<div class="t" style="left:1332.80px;top:754.6px;font-size:27.5px;line-height:27.5px;font-weight:400;font-family:'Liberation Sans',sans-serif;color:#000;transform:scale(1.0000,1.1000);transform-origin:0 23px;">$</div>
<div class="t" style="left:1418.53px;top:754px;font-size:27.5px;line-height:27.5px;font-weight:400;font-family:'Liberation Sans',sans-serif;color:#000;transform:scale(1.0622,1.0000);transform-origin:0 23px;">1,400</div>
<div class="t" style="left:645.58px;top:798px;font-size:27.5px;line-height:27.5px;font-weight:400;font-family:'Liberation Sans',sans-serif;color:#000;transform:scale(1.0156,1.0000);transform-origin:0 23px;">70 or Older</div>
<div class="t" style="left:822.15px;top:798px;font-size:27.5px;line-height:27.5px;font-weight:400;font-family:'Liberation Sans',sans-serif;color:#000;">F</div>
<div class="t" style="left:1105.46px;top:798px;font-size:27.5px;line-height:27.5px;font-weight:400;font-family:'Liberation Sans',sans-serif;color:#000;transform:scale(1.0700,1.0000);transform-origin:0 23px;">5</div>
<div class="t" style="left:1136.05px;top:798px;font-size:27.5px;line-height:27.5px;font-weight:400;font-family:'Liberation Sans',sans-serif;color:#000;transform:scale(0.9985,1.0000);transform-origin:0 23px;">Emergency</div>
<div class="t" style="left:1332.80px;top:798.6px;font-size:27.5px;line-height:27.5px;font-weight:400;font-family:'Liberation Sans',sans-serif;color:#000;transform:scale(1.0000,1.1000);transform-origin:0 23px;">$</div>
<div class="t" style="left:1402.54px;top:798px;font-size:27.5px;line-height:27.5px;font-weight:400;font-family:'Liberation Sans',sans-serif;color:#000;transform:scale(1.0636,1.0000);transform-origin:0 23px;">12,637</div>
</body></html>
